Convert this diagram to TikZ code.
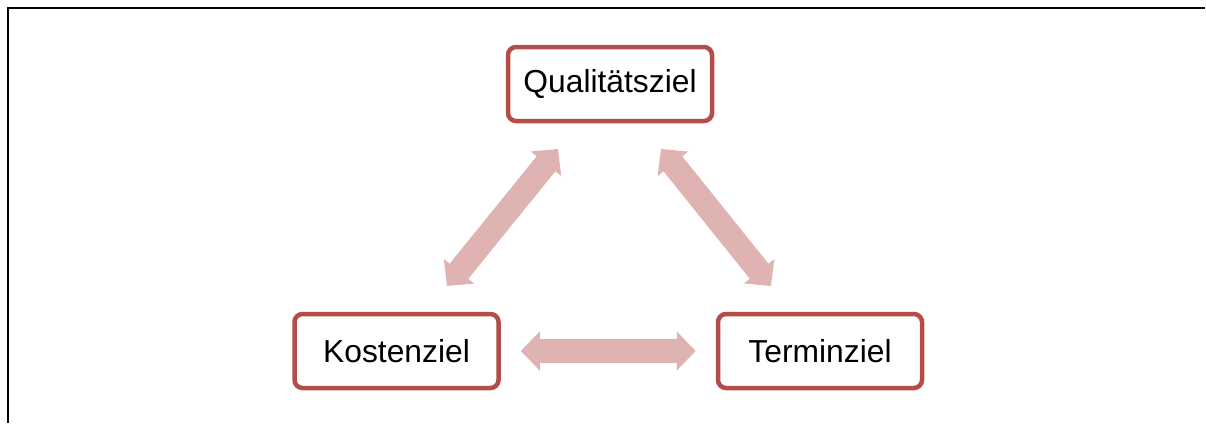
\documentclass[tikz,border=0pt]{standalone}
\usepackage{fontspec}
\setmainfont{Liberation Sans}
\usetikzlibrary{arrows.meta}
\definecolor{boxred}{RGB}{180,76,74}
\definecolor{arrowpink}{RGB}{222,179,178}
\begin{document}
\begin{tikzpicture}[x=1pt,y=-1pt,
  goal/.style={draw=boxred, line width=4.5pt, rounded corners=8pt, fill=white,
    minimum width=204pt, minimum height=74pt, inner sep=0pt,
    font=\fontsize{31.8}{38}\selectfont},
  fatarrow/.style={draw=arrowpink, line width=24pt,
    {Triangle[width=38pt,length=19pt]}-{Triangle[width=38pt,length=19pt]}}]
  \useasboundingbox (0,0) rectangle (1206,423);
  % page frame
  \draw[line width=2pt] (8,423) -- (8,8) -- (1205,8);
  % goal boxes
  \node[goal] (Q) at (610,84) {Qualitätsziel};
  \node[goal] (K) at (396.5,351) {Kostenziel};
  \node[goal] (T) at (820,351) {Terminziel};
  % arrow end points
  \coordinate (kq) at (447,286);
  \coordinate (qk) at (558,149);
  \coordinate (qt) at (661,149);
  \coordinate (tq) at (771,286);
  % double arrows between the goals
  \draw[fatarrow] (kq) -- (qk);
  \draw[fatarrow] (qt) -- (tq);
  \draw[fatarrow, shorten <=20pt, shorten >=20pt] (K.east) -- (T.west);
\end{tikzpicture}
\end{document}
